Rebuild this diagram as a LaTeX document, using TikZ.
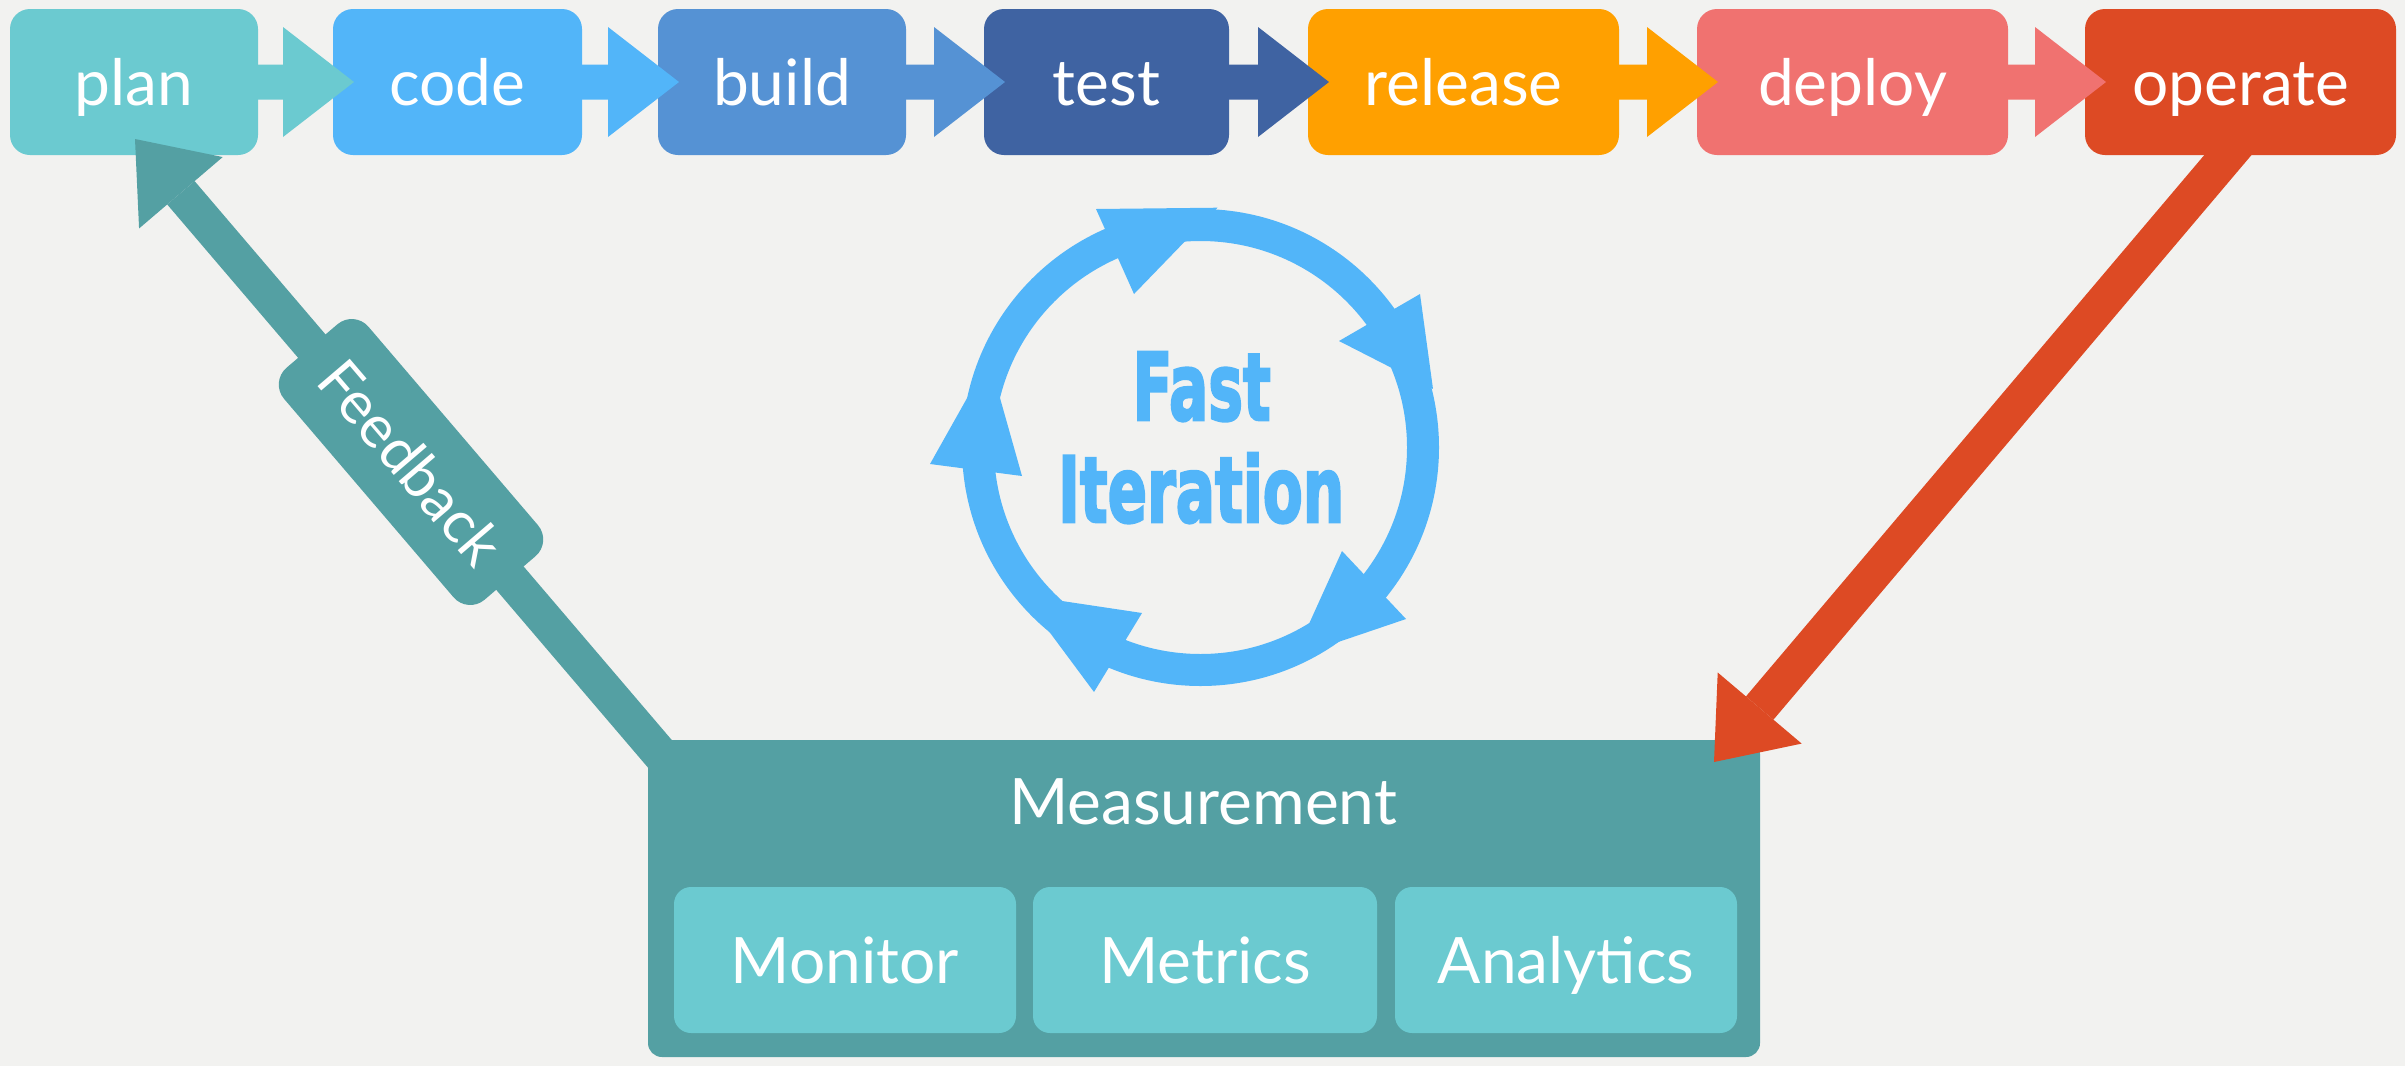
\documentclass[tikz,border=0pt]{standalone}
\usepackage{fontspec}
\setmainfont{Lato}
\newfontfamily\fastfont{DejaVu Sans}[BoldFeatures={FakeBold=3}]
\usetikzlibrary{calc}
\definecolor{bgc}{HTML}{F2F2F0}
\definecolor{cplan}{HTML}{6BCAD0}
\definecolor{ccode}{HTML}{52B5F9}
\definecolor{cbuild}{HTML}{5592D4}
\definecolor{ctest}{HTML}{3F63A2}
\definecolor{crelease}{HTML}{FFA000}
\definecolor{cdeploy}{HTML}{F07270}
\definecolor{coperate}{HTML}{DD4A24}
\definecolor{cmeas}{HTML}{54A0A3}
\definecolor{cfast}{HTML}{52B5F9}
\newcommand{\drawTopArrow}[3]{%
  \fill[#3] ([xshift=-1pt,yshift=17.5pt]#1.east) -- ([xshift=-50pt,yshift=17.5pt]#2.west)
   -- ([xshift=-50pt,yshift=55pt]#2.west) -- ([xshift=21pt]#2.west)
   -- ([xshift=-50pt,yshift=-55pt]#2.west) -- ([xshift=-50pt,yshift=-17.5pt]#2.west)
   -- ([xshift=-1pt,yshift=-17.5pt]#1.east) -- cycle;}
\tikzset{
  lbl/.style={text=white, font=\fontsize{64}{70}\selectfont},
  stagebox/.style={lbl, rounded corners=20pt, minimum height=146pt, inner sep=0pt, outer sep=0pt,
    text height=46pt, text depth=0pt},
  subbox/.style={stagebox, rounded corners=17pt, fill=cplan},
  ringtri/.style={fill=cfast},
}
\begin{document}
\begin{tikzpicture}[x=1pt,y=-1pt]
\fill[bgc] (0,0) rectangle (2405,1066);
\useasboundingbox (0,0) rectangle (2405,1066);

% Fast iteration cycle
\node[circle, draw=cfast, line width=32pt, minimum size=445pt, inner sep=0pt] (ring) at (1200.5,447.5) {};
\fill[ringtri] (1096,209) -- (1134,294) -- (1217.5,207.7) -- cycle;
\fill[ringtri] (1420,294) -- (1339,341) -- (1433,389) -- cycle;
\fill[ringtri] (1342,551) -- (1406,619) -- (1294,657) -- cycle;
\fill[ringtri] (1142,613) -- (1094,692) -- (1022,595) -- cycle;
\fill[ringtri] (930,464) -- (1022,476) -- (989,359) -- cycle;
\node[anchor=base west, inner sep=0pt, text=cfast] (fast) at (1132.5,420) {\resizebox{138pt}{68pt}{\fastfont\bfseries Fast}};
\node[anchor=base west, inner sep=0pt, text=cfast] (iter) at (1058,522) {\resizebox{286pt}{69pt}{\fastfont\bfseries Iteration}};

% stages
\node[stagebox, fill=cplan, minimum width=248pt] (plan) at (134,82) {plan};
\node[stagebox, fill=ccode, minimum width=249pt] (code) at (457.5,82) {code};
\node[stagebox, fill=cbuild, minimum width=248pt] (build) at (782,82) {build};
\node[stagebox, fill=ctest, minimum width=245pt] (test) at (1106.5,82) {test};
\node[stagebox, fill=crelease, minimum width=311pt] (release) at (1463.5,82) {release};
\node[stagebox, fill=cdeploy, minimum width=311pt] (deploy) at (1852.5,82) {deploy};
\node[stagebox, fill=coperate, minimum width=311pt] (operate) at (2240.5,82) {operate};

\drawTopArrow{plan}{code}{cplan}
\drawTopArrow{code}{build}{ccode}
\drawTopArrow{build}{test}{cbuild}
\drawTopArrow{test}{release}{ctest}
\drawTopArrow{release}{deploy}{crelease}
\drawTopArrow{deploy}{operate}{cdeploy}

% feedback arrow shaft
\coordinate (fbtip) at (135,139);
\coordinate (fbstart) at (672,768);
\coordinate (fbbase) at ($(fbtip)!70.7pt!(fbstart)$);
\draw[cmeas, line width=36pt] (fbstart) -- (fbbase);
\node[fill=cmeas, rounded corners=22pt, minimum width=305pt, minimum height=111pt, inner sep=0pt,
  rotate=-49.5, text=white, font=\fontsize{59}{62}\selectfont] (fblabel) at (411,462) {Feedback};

% operate arrow shaft
\coordinate (optip) at (1714,762);
\coordinate (opstart) at (2240.6,140);
\coordinate (opbase) at ($(optip)!70.7pt!(opstart)$);
\draw[coperate, line width=36pt] (opstart) -- (opbase);

% measurement
\node[fill=cmeas, rounded corners=14pt, minimum width=1112pt, minimum height=317pt, inner sep=0pt] (meas) at (1204,898.5) {};
\node[lbl, anchor=base, inner sep=0pt] (measlbl) at (1203,824) {Measurement};
\node[subbox, minimum width=342pt] (monitor) at (845,960) {Monitor};
\node[subbox, minimum width=344pt] (metrics) at (1205,960) {Metrics};
\node[subbox, minimum width=342pt] (analytics) at (1566,960) {Analytics};

% arrow heads
\fill[cmeas] (fbtip) -- ($(fbbase)!55pt!90:(fbtip)$) -- ($(fbbase)!55pt!-90:(fbtip)$) -- cycle;
\fill[coperate] (optip) -- ($(opbase)!55pt!90:(optip)$) -- ($(opbase)!55pt!-90:(optip)$) -- cycle;
\end{tikzpicture}
\end{document}
